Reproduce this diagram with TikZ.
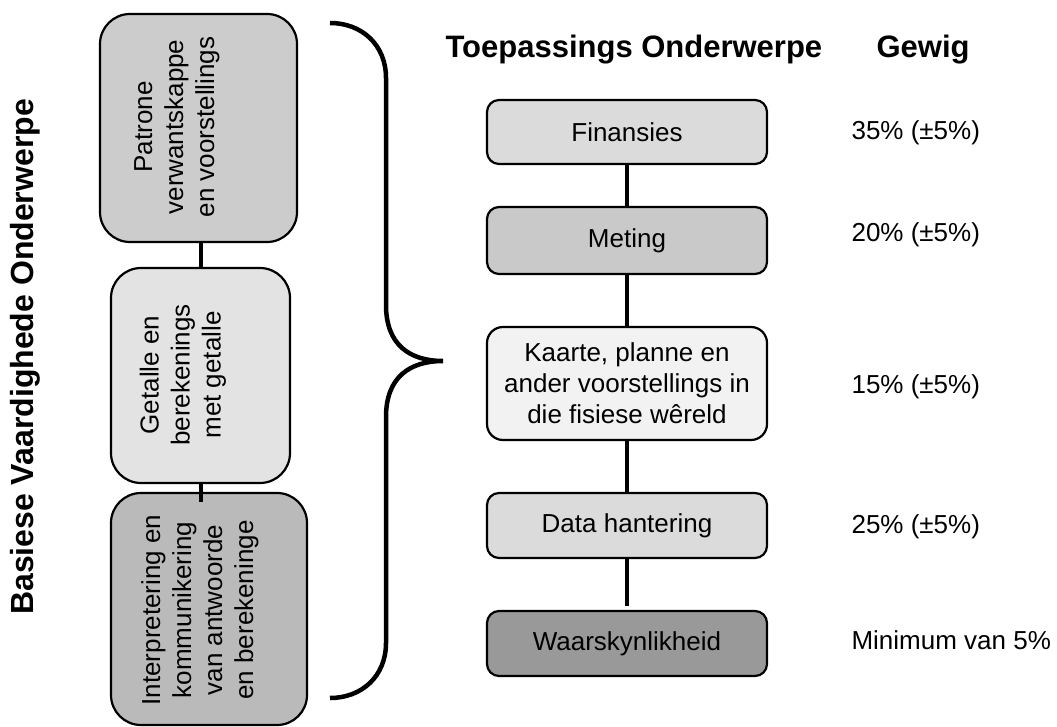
\documentclass[tikz,border=0pt]{standalone}
\usepackage{fontspec}
\setmainfont{Liberation Sans}
\usetikzlibrary{positioning}
\definecolor{patronefill}{gray}{0.80}
\definecolor{getallefill}{gray}{0.89}
\definecolor{interpfill}{gray}{0.73}
\definecolor{finfill}{gray}{0.86}
\definecolor{metingfill}{gray}{0.79}
\definecolor{kaartefill}{gray}{0.95}
\definecolor{datafill}{gray}{0.86}
\definecolor{waarfill}{gray}{0.60}

\tikzset{
	skill/.style={draw=black, line width=2.2pt, rounded corners=30pt, inner sep=0pt},
	skilltext/.style={rotate=90, align=center, font=\fontsize{26}{31}\selectfont},
	topic/.style={draw=black, line width=2.2pt, rounded corners=12pt, inner sep=0pt,
		minimum width=280pt, align=center, font=\fontsize{26}{31}\selectfont},
	weight/.style={anchor=west, font=\fontsize{26}{30}\selectfont},
	heading/.style={anchor=west, font=\bfseries\fontsize{31}{36}\selectfont},
	link/.style={line width=4pt}
}

\begin{document}
\begin{tikzpicture}[x=1pt, y=-1pt]
	\useasboundingbox (0,0) rectangle (1057,727);

	% title on the left
	\node[rotate=90, font=\bfseries\fontsize{32}{38}\selectfont] (title) at (25,357) {Basiese Vaardighede Onderwerpe};

	% basic skills
	\node[skill, fill=patronefill, minimum width=197pt, minimum height=228pt] (patrone) at (198.5,128) {};
	\node[skilltext] (patronetext) at (177,127) {Patrone\\verwantskappe\\en voorstellings};
	\node[skill, fill=getallefill, minimum width=179pt, minimum height=215pt] (getalle) at (200.5,375.5) {};
	\node[skilltext] (getalletext) at (183,375) {Getalle en\\berekenings\\met getalle};
	\node[skill, fill=interpfill, minimum width=196pt, minimum height=232pt] (interp) at (209,609) {};
	\node[skilltext] (interptext) at (200,610) {Interpretering en\\kommunikering\\van antwoorde\\en berekeninge};

	% skill links
	\draw[link] (getalle.north) -- (getalle.north |- patrone.south);
	\draw[link] (getalle.south) -- ([yshift=-10pt]getalle.south |- interp.north);

	% brace
	\draw[line width=4.5pt] (330,23) .. controls (362,23) and (386,45) .. (386,78) -- (386,305)
		.. controls (386,345) and (410,361) .. (443,361)
		.. controls (410,361) and (386,377) .. (386,417) -- (386,643)
		.. controls (386,676) and (362,698) .. (330,698);

	% headings
	\node[heading] (toepas) at (442,50) {Toepassings Onderwerpe};
	\node[heading] (gewig) at (873,50) {Gewig};

	% application topics
	\node[topic, fill=finfill, minimum height=64pt] (finansies) at (627,132) {Finansies};
	\node[topic, fill=metingfill, minimum height=67pt] (meting) at (627,240.5) {Meting};
	\node[topic, fill=kaartefill, minimum height=113pt, rounded corners=16pt] (kaarte) at (627,383.5) {Kaarte, planne en\\ander voorstellings in\\die fisiese wêreld};
	\node[topic, fill=datafill, minimum height=65pt] (data) at (627,525.5) {Data hantering};
	\node[topic, fill=waarfill, minimum height=65pt] (waar) at (627,643.5) {Waarskynlikheid};

	% topic links
	\draw[link] (finansies) -- (meting);
	\draw[link] (meting) -- (kaarte);
	\draw[link] (kaarte) -- (data);
	\draw[link] (data) -- ([yshift=4pt]waar.north);

	% weights
	\node[weight] (wfin) at (848,133) {35\% (±5\%)};
	\node[weight] (wmet) at (848,235) {20\% (±5\%)};
	\node[weight] (wkaa) at (848,387) {15\% (±5\%)};
	\node[weight] (wdat) at (848,527) {25\% (±5\%)};
	\node[weight] (wwaa) at (848,640) {Minimum van 5\%};
\end{tikzpicture}
\end{document}
